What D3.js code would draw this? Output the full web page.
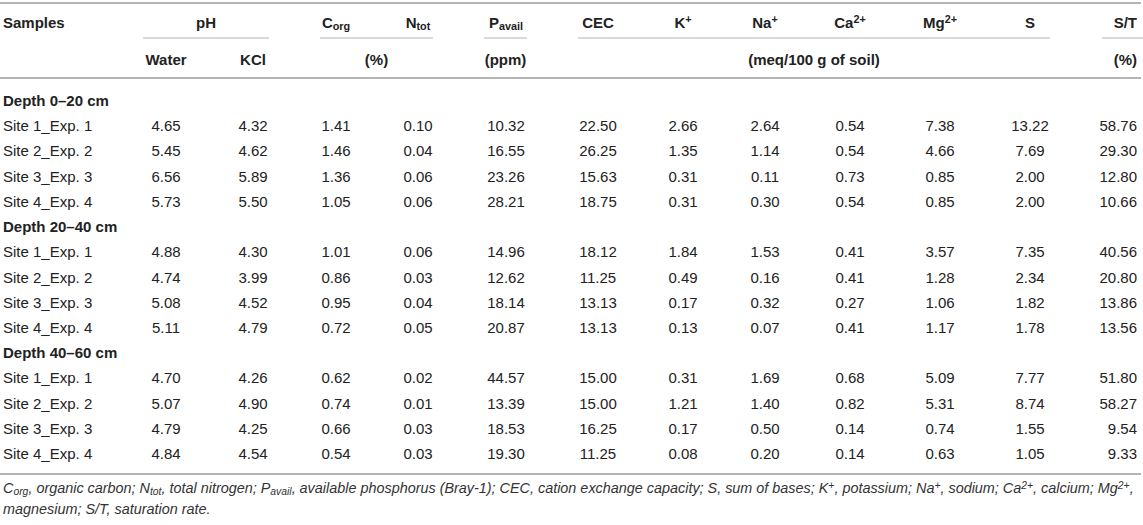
<!DOCTYPE html>
<html>
<head>
<meta charset="utf-8">
<script src="https://cdn.jsdelivr.net/npm/d3@7"></script>
<style>
  html, body { margin: 0; padding: 0; background: #fff; }
  svg { display: block; font-family: "Liberation Sans", Arial, Helvetica, sans-serif; }
</style>
</head>
<body>
<svg id="table" width="1143" height="525"></svg>
<script>
// Soil properties table, drawn with D3

const depths = ["Depth 0–20 cm", "Depth 20–40 cm", "Depth 40–60 cm"];
const samples = ["Site 1_Exp. 1", "Site 2_Exp. 2", "Site 3_Exp. 3", "Site 4_Exp. 4"];
const columns = ["water", "kcl", "corg", "ntot", "pavail", "cec", "k", "na", "ca", "mg", "s", "st"];

// one array per depth, one row per sample, same order as columns
const depth0_20 = [
  ["4.65", "4.32", "1.41", "0.10", "10.32", "22.50", "2.66", "2.64", "0.54", "7.38", "13.22", "58.76"],
  ["5.45", "4.62", "1.46", "0.04", "16.55", "26.25", "1.35", "1.14", "0.54", "4.66", "7.69", "29.30"],
  ["6.56", "5.89", "1.36", "0.06", "23.26", "15.63", "0.31", "0.11", "0.73", "0.85", "2.00", "12.80"],
  ["5.73", "5.50", "1.05", "0.06", "28.21", "18.75", "0.31", "0.30", "0.54", "0.85", "2.00", "10.66"]
];
const depth20_40 = [
  ["4.88", "4.30", "1.01", "0.06", "14.96", "18.12", "1.84", "1.53", "0.41", "3.57", "7.35", "40.56"],
  ["4.74", "3.99", "0.86", "0.03", "12.62", "11.25", "0.49", "0.16", "0.41", "1.28", "2.34", "20.80"],
  ["5.08", "4.52", "0.95", "0.04", "18.14", "13.13", "0.17", "0.32", "0.27", "1.06", "1.82", "13.86"],
  ["5.11", "4.79", "0.72", "0.05", "20.87", "13.13", "0.13", "0.07", "0.41", "1.17", "1.78", "13.56"]
];
const depth40_60 = [
  ["4.70", "4.26", "0.62", "0.02", "44.57", "15.00", "0.31", "1.69", "0.68", "5.09", "7.77", "51.80"],
  ["5.07", "4.90", "0.74", "0.01", "13.39", "15.00", "1.21", "1.40", "0.82", "5.31", "8.74", "58.27"],
  ["4.79", "4.25", "0.66", "0.03", "18.53", "16.25", "0.17", "0.50", "0.14", "0.74", "1.55", "9.54"],
  ["4.84", "4.54", "0.54", "0.03", "19.30", "11.25", "0.08", "0.20", "0.14", "0.63", "1.05", "9.33"]
];
const blocks = [depth0_20, depth20_40, depth40_60];

// header texts: parts with optional sub / sup
const topHeaders = [
  { col: "corg", parts: [["C"], ["org", "sub"]] },
  { col: "ntot", parts: [["N"], ["tot", "sub"]] },
  { col: "pavail", parts: [["P"], ["avail", "sub"]] },
  { col: "cec", parts: [["CEC"]] },
  { col: "k", parts: [["K"], ["+", "sup"]] },
  { col: "na", parts: [["Na"], ["+", "sup"]] },
  { col: "ca", parts: [["Ca"], ["2+", "sup"]] },
  { col: "mg", parts: [["Mg"], ["2+", "sup"]] },
  { col: "s", parts: [["S"]] },
  { col: "st", parts: [["S/T"]] }
];
const subHeaders = [
  { col: "water", text: "Water" },
  { col: "kcl", text: "KCl" }
];
const groups = [
  { from: "water", to: "kcl", label: "pH", row: 0 },
  { from: "corg", to: "ntot", label: "(%)", row: 1 },
  { from: "pavail", to: "pavail", label: "(ppm)", row: 1 },
  { from: "cec", to: "s", label: "(meq/100 g of soil)", row: 1 },
  { from: "st", to: "st", label: "(%)", row: 1 }
];
const footnote = [
  [["C"], ["org", "sub"], [", organic carbon; N"], ["tot", "sub"], [", total nitrogen; P"], ["avail", "sub"],
   [", available phosphorus (Bray-1); CEC, cation exchange capacity; S, sum of bases; K"], ["+", "sup"],
   [", potassium; Na"], ["+", "sup"], [", sodium; Ca"], ["2+", "sup"], [", calcium; Mg"], ["2+", "sup"], [","]],
  [["magnesium; S/T, saturation rate."]]
];

// layout
const W = 1141;
const fontSize = 15;
const noteSize = 14.4;
const textColor = "#222";
const ruleColor = "#b4b4b4";

const colX = d3.scaleOrdinal()
  .domain(columns)
  .range([166, 253, 336, 418, 506, 598, 683, 765, 850, 940, 1030, 1137]);
// extents of the rules drawn under group headers
const colLeft = { water: 143, corg: 320, pavail: 484, cec: 578, st: 1102 };
const colRight = { kcl: 269, ntot: 433, pavail: 527, s: 1050, st: 1143 };
const anchorOf = c => c === "st" ? "end" : "middle";

const nRows = blocks.length * (samples.length + 1);
const rowY = d3.scaleLinear().domain([0, nRows - 1]).range([106, 459]);
const headY = [28, 65];

const svg = d3.select("#table");

// draws a text made of parts, sub/sup are smaller and shifted
function richText(g, parts, size) {
  parts.forEach(([t, kind]) => {
    const ts = g.append("tspan").text(t);
    if (kind === "sub") ts.attr("font-size", size * 0.72).attr("baseline-shift", "-22%");
    if (kind === "sup") ts.attr("font-size", size * 0.72).attr("baseline-shift", "45%");
  });
  return g;
}

// horizontal rules
const rules = [3, 78, 474];
svg.append("g").selectAll("line")
  .data(rules)
  .join("line")
  .attr("x1", 0).attr("x2", W)
  .attr("y1", d => d).attr("y2", d => d)
  .attr("stroke", ruleColor)
  .attr("stroke-width", 2);

// header
const head = svg.append("g")
  .attr("font-weight", "bold")
  .attr("font-size", fontSize)
  .attr("fill", textColor);

head.append("text")
  .attr("x", 3).attr("y", headY[0])
  .text("Samples");

topHeaders.forEach(h => {
  const t = head.append("text")
    .attr("x", colX(h.col)).attr("y", headY[0])
    .attr("text-anchor", anchorOf(h.col));
  richText(t, h.parts, fontSize);
});

head.selectAll("text.sub")
  .data(subHeaders)
  .join("text")
  .attr("class", "sub")
  .attr("x", d => colX(d.col))
  .attr("y", headY[1])
  .attr("text-anchor", "middle")
  .text(d => d.text);

groups.forEach(gr => {
  const x0 = colLeft[gr.from], x1 = colRight[gr.to];
  const cx = gr.from === "st" ? colX("st") : (x0 + x1) / 2;
  head.append("text")
    .attr("x", cx)
    .attr("y", headY[gr.row])
    .attr("text-anchor", gr.from === "st" ? "end" : "middle")
    .text(gr.label);
  svg.append("line")
    .attr("x1", x0).attr("x2", x1)
    .attr("y1", 38).attr("y2", 38)
    .attr("stroke", ruleColor)
    .attr("stroke-width", 1.2);
});

// body rows
const rows = [];
blocks.forEach((block, b) => {
  rows.push({ type: "depth", label: depths[b] });
  block.forEach((vals, i) => rows.push({ type: "sample", label: samples[i], vals }));
});

const body = svg.append("g")
  .attr("font-size", fontSize)
  .attr("fill", textColor);

const rowG = body.selectAll("g.row")
  .data(rows)
  .join("g")
  .attr("class", "row")
  .attr("transform", (d, i) => `translate(0,${rowY(i)})`);

rowG.append("text")
  .attr("x", 3)
  .attr("font-weight", d => d.type === "depth" ? "bold" : null)
  .text(d => d.label);

rowG.filter(d => d.type === "sample")
  .selectAll("text.val")
  .data(d => d.vals.map((v, j) => ({ v, col: columns[j] })))
  .join("text")
  .attr("class", "val")
  .attr("x", d => colX(d.col))
  .attr("text-anchor", d => anchorOf(d.col))
  .text(d => d.v);

// footnote
const note = svg.append("g")
  .attr("font-size", noteSize)
  .attr("font-style", "italic")
  .attr("fill", "#333");

footnote.forEach((line, i) => {
  const t = note.append("text").attr("x", 3).attr("y", 493 + i * 21);
  richText(t, line, noteSize);
});
</script>
</body>
</html>
